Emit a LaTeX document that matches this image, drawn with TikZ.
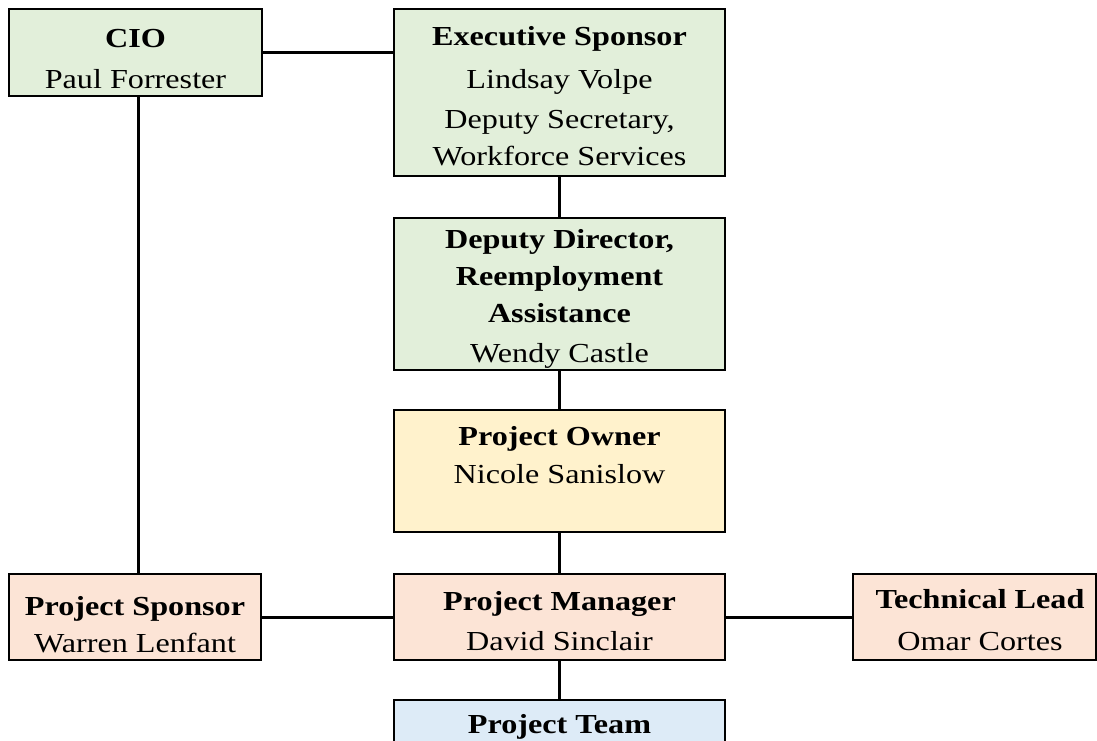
\documentclass[tikz,border=0pt]{standalone}
\usepackage{fontspec}
\setmainfont{Liberation Serif}[FakeStretch=1.17]
\definecolor{gbox}{HTML}{E2EFDA}
\definecolor{ybox}{HTML}{FFF2CC}
\definecolor{sbox}{HTML}{FCE4D6}
\definecolor{bbox}{HTML}{DDEBF7}
\begin{document}
\begin{tikzpicture}[x=1pt,y=-1pt,
  orgbox/.style={draw=black, line width=2.8pt, inner sep=0pt, outer sep=0pt, rectangle},
  link/.style={draw=black, line width=3pt},
  ttl/.style={anchor=base, inner sep=0pt, font=\fontsize{27.5}{30}\selectfont\bfseries},
  txt/.style={anchor=base, inner sep=0pt, font=\fontsize{27.5}{30}\selectfont}]
\useasboundingbox (0,0) rectangle (1097,740);
\clip (0,0) rectangle (1097,740);
% boxes
\node[orgbox, fill=gbox, minimum width=253pt, minimum height=87pt] (cio) at (135.5,52.5) {};
\node[orgbox, fill=gbox, minimum width=331pt, minimum height=167pt] (exec) at (559.5,92.5) {};
\node[orgbox, fill=gbox, minimum width=331pt, minimum height=152pt] (dd) at (559.5,294) {};
\node[orgbox, fill=ybox, minimum width=331pt, minimum height=122pt] (po) at (559.5,471) {};
\node[orgbox, fill=sbox, minimum width=331pt, minimum height=86pt] (pm) at (559.5,617) {};
\node[orgbox, fill=bbox, minimum width=331pt, minimum height=90pt] (pt) at (559.5,745) {};
\node[orgbox, fill=sbox, minimum width=252pt, minimum height=86pt] (ps) at (135,617) {};
\node[orgbox, fill=sbox, minimum width=243pt, minimum height=86pt] (tl) at (974.5,617) {};
% connectors
\draw[link] (cio.east) -- (cio.east -| exec.west);
\draw[link] ([xshift=2.5pt]cio.south) -- ([xshift=2.5pt]cio.south |- ps.north);
\draw[link] (exec.south) -- (dd.north);
\draw[link] (dd.south) -- (po.north);
\draw[link] (po.south) -- (pm.north);
\draw[link] (pm.south) -- (pt.north);
\draw[link] (ps.east) -- (pm.west);
\draw[link] (pm.east) -- (tl.west);
% texts
\node[ttl] (cio1) at (135.5,47) {CIO};
\node[txt] (cio2) at (135.5,88) {Paul Forrester};
\node[ttl] (ex1) at (559.5,45) {Executive Sponsor};
\node[txt] (ex2) at (559.5,88) {Lindsay Volpe};
\node[txt] (ex3) at (559.5,128) {Deputy Secretary,};
\node[txt] (ex4) at (559.5,165) {Workforce Services};
\node[ttl] (dd1) at (559.5,248) {Deputy Director,};
\node[ttl] (dd2) at (559.5,285) {Reemployment};
\node[ttl] (dd3) at (559.5,322) {Assistance};
\node[txt] (dd4) at (559.5,362) {Wendy Castle};
\node[ttl] (po1) at (559.5,445) {Project Owner};
\node[txt] (po2) at (559.5,483) {Nicole Sanislow};
\node[ttl] (pm1) at (559.5,610) {Project Manager};
\node[txt] (pm2) at (559.5,650) {David Sinclair};
\node[ttl] (pt1) at (559.5,733) {Project Team};
\node[ttl] (ps1) at (135,615) {Project Sponsor};
\node[txt] (ps2) at (135,652) {Warren Lenfant};
\node[ttl] (tl1) at (980,608) {Technical Lead};
\node[txt] (tl2) at (980,650) {Omar Cortes};
\end{tikzpicture}
\end{document}
